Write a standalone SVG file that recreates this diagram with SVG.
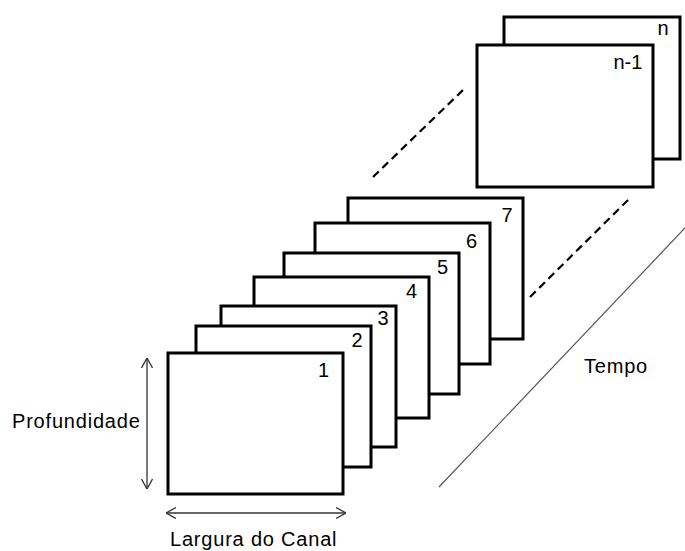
<svg xmlns="http://www.w3.org/2000/svg" width="685" height="551" viewBox="0 0 685 551">
<style>
.frame{fill:#fff;stroke:#000;stroke-width:3}
.num{font-family:"Liberation Sans",Arial,sans-serif;font-size:20px;fill:#000}
.lbl{font-family:"Liberation Sans",Arial,sans-serif;font-size:20px;fill:#000;letter-spacing:0.8px}
.dash{stroke:#000;stroke-width:2.2;stroke-dasharray:8 5;fill:none}
.dim{stroke:#333;stroke-width:1.3;fill:none}
</style>
<defs>
<marker id="ah" viewBox="0 0 10 12" refX="10" refY="6" markerWidth="10" markerHeight="12" markerUnits="userSpaceOnUse" orient="auto-start-reverse">
<path d="M0,0.5 L10,6 L0,11.5" fill="none" stroke="#333" stroke-width="1.3"/>
</marker>
</defs>
<rect width="685" height="551" fill="#fff"/>
<g id="connectors">
<line class="dash" x1="373" y1="177" x2="463" y2="90"/>
<line class="dash" x1="530" y1="297" x2="629" y2="199"/>
<line x1="439" y1="487" x2="685" y2="228" stroke="#555" stroke-width="1.2"/>
<line class="dim" x1="147" y1="358" x2="147" y2="489" marker-start="url(#ah)" marker-end="url(#ah)"/>
<line class="dim" x1="166" y1="513" x2="346" y2="513" marker-start="url(#ah)" marker-end="url(#ah)"/>
</g>
<g id="frame-n"><rect class="frame" x="504" y="17" width="176" height="142"/><text class="num" x="657.5" y="35">n</text></g>
<g id="frame-n-1"><rect class="frame" x="477" y="45" width="176" height="142"/><text class="num" x="613.5" y="69">n-1</text></g>
<g id="frame-7"><rect class="frame" x="348" y="198" width="175" height="141"/><text class="num" x="501.5" y="222">7</text></g>
<g id="frame-6"><rect class="frame" x="315" y="223" width="175" height="141"/><text class="num" x="466" y="248">6</text></g>
<g id="frame-5"><rect class="frame" x="284" y="253" width="175" height="141"/><text class="num" x="437" y="274">5</text></g>
<g id="frame-4"><rect class="frame" x="254" y="277" width="175" height="141"/><text class="num" x="406" y="298">4</text></g>
<g id="frame-3"><rect class="frame" x="221" y="306" width="175" height="141"/><text class="num" x="377.5" y="325">3</text></g>
<g id="frame-2"><rect class="frame" x="196" y="326" width="175" height="141"/><text class="num" x="351.5" y="347">2</text></g>
<g id="frame-1"><rect class="frame" x="168" y="353" width="175" height="141"/><text class="num" x="318" y="377">1</text></g>
<g id="labels">
<text class="lbl" x="12" y="428">Profundidade</text>
<text class="lbl" x="170" y="546">Largura do Canal</text>
<text class="lbl" x="584" y="373">Tempo</text>
</g>
</svg>
